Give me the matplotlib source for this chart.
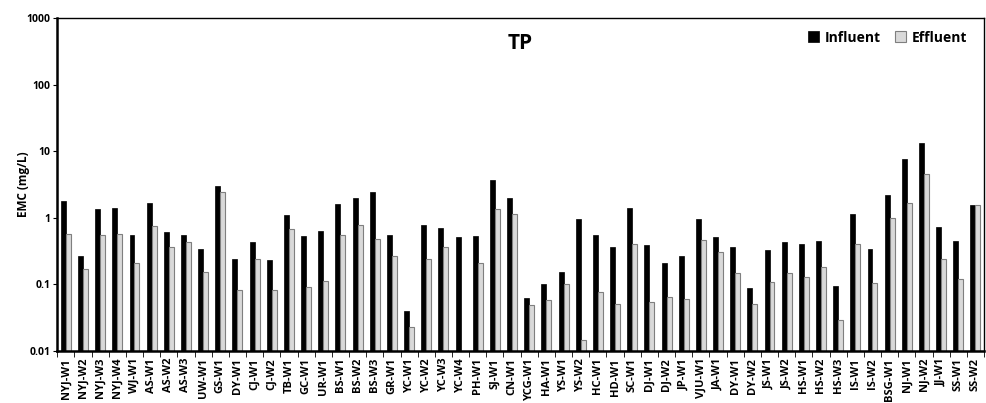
import matplotlib
matplotlib.use('Agg')
import matplotlib.pyplot as plt
import numpy as np
from matplotlib.ticker import FixedLocator, FixedFormatter, NullFormatter

# Site / event labels along the x axis
sites = ['NYJ-W1', 'NYJ-W2', 'NYJ-W3', 'NYJ-W4', 'WJ-W1', 'AS-W1', 'AS-W2', 'AS-W3',
         'UW-W1', 'GS-W1', 'DY-W1', 'CJ-W1', 'CJ-W2', 'TB-W1', 'GC-W1', 'UR-W1',
         'BS-W1', 'BS-W2', 'BS-W3', 'GR-W1', 'YC-W1', 'YC-W2', 'YC-W3', 'YC-W4',
         'PH-W1', 'SJ-W1', 'CN-W1', 'YCG-W1', 'HA-W1', 'YS-W1', 'YS-W2', 'HC-W1',
         'HD-W1', 'SC-W1', 'DJ-W1', 'DJ-W2', 'JP-W1', 'VJU-W1', 'JA-W1', 'DY-W1',
         'DY-W2', 'JS-W1', 'JS-W2', 'HS-W1', 'HS-W2', 'HS-W3', 'IS-W1', 'IS-W2',
         'BSG-W1', 'NJ-W1', 'NJ-W2', 'JJ-W1', 'SS-W1', 'SS-W2']

# EMC values (mg/L)
influent = [1.79, 0.268, 1.35, 1.41, 0.56, 1.66, 0.61, 0.56,
            0.344, 3.0, 0.239, 0.43, 0.23, 1.11, 0.53, 0.64,
            1.64, 1.99, 2.42, 0.55, 0.040, 0.78, 0.71, 0.51,
            0.53, 3.73, 1.99, 0.062, 0.101, 0.156, 0.955, 0.56,
            0.365, 1.43, 0.39, 0.21, 0.267, 0.95, 0.52, 0.365,
            0.089, 0.325, 0.43, 0.41, 0.45, 0.095, 1.14, 0.34,
            2.18, 7.6, 13.3, 0.74, 0.45, 1.57]
effluent = [0.58, 0.17, 0.56, 0.58, 0.21, 0.76, 0.36, 0.43,
            0.156, 2.47, 0.083, 0.24, 0.083, 0.69, 0.091, 0.113,
            0.545, 0.77, 0.475, 0.27, 0.023, 0.24, 0.37, np.nan,
            0.21, 1.38, 1.16, 0.049, 0.058, 0.10, 0.0145, 0.076,
            0.051, 0.41, 0.054, 0.065, 0.060, 0.46, 0.31, 0.147,
            0.050, 0.107, 0.147, 0.128, 0.18, 0.029, 0.40, 0.106,
            0.98, 1.65, 4.5, 0.24, 0.12, 1.55]

yticks = [0.01, 0.1, 1, 10, 100, 1000]
ytick_labels = ['0.01', '0.1', '1', '10', '100', '1000']

plt.rcParams['font.family'] = ['Open Sans', 'DejaVu Sans']
plt.rcParams['font.weight'] = 'bold'

fig = plt.figure(figsize=(9.87, 4.03), dpi=100)
ax = fig.add_axes([0.058, 0.129, 0.939, 0.826])

x = np.arange(len(sites))
w = 0.29
ax.bar(x - w / 2, influent, width=w, color='black', edgecolor='black',
       linewidth=0.5, label='Influent')
ax.bar(x + w / 2, effluent, width=w, color='#d9d9d9', edgecolor='#7f7f7f',
       linewidth=0.8, label='Effluent')

ax.set_yscale('log')
ax.set_ylim(0.01, 1000)
ax.yaxis.set_major_locator(FixedLocator(yticks))
ax.yaxis.set_major_formatter(FixedFormatter(ytick_labels))
ax.yaxis.set_minor_formatter(NullFormatter())
ax.tick_params(axis='y', which='minor', left=False)
ax.tick_params(axis='y', which='major', labelsize=7.5, length=3, direction='out', pad=2)
ax.set_ylabel('EMC (mg/L)', fontsize=8.5, fontweight='bold')
ax.yaxis.set_label_coords(-0.029, 0.5)

ax.set_xlim(-0.5, len(sites) - 0.5)
ax.set_xticks(x)
ax.set_xticklabels(sites, rotation=90, fontsize=8, fontweight='bold')
ax.set_xticks(np.arange(len(sites) + 1) - 0.5, minor=True)
ax.tick_params(axis='x', which='major', length=0, pad=5)
ax.tick_params(axis='x', which='minor', length=4, direction='out')

for side in ['left', 'bottom']:
    ax.spines[side].set_linewidth(1.8)
for side in ['top', 'right']:
    ax.spines[side].set_linewidth(1.0)

ax.text(0.5, 0.925, 'TP', transform=ax.transAxes, ha='center', va='center',
        fontsize=15, fontweight='bold')
ax.legend(loc='upper right', ncol=2, frameon=False, fontsize=10,
          handlelength=0.8, handleheight=0.8, columnspacing=1.0,
          handletextpad=0.4, bbox_to_anchor=(0.995, 1.0))

fig.savefig('out.png', dpi=100)
